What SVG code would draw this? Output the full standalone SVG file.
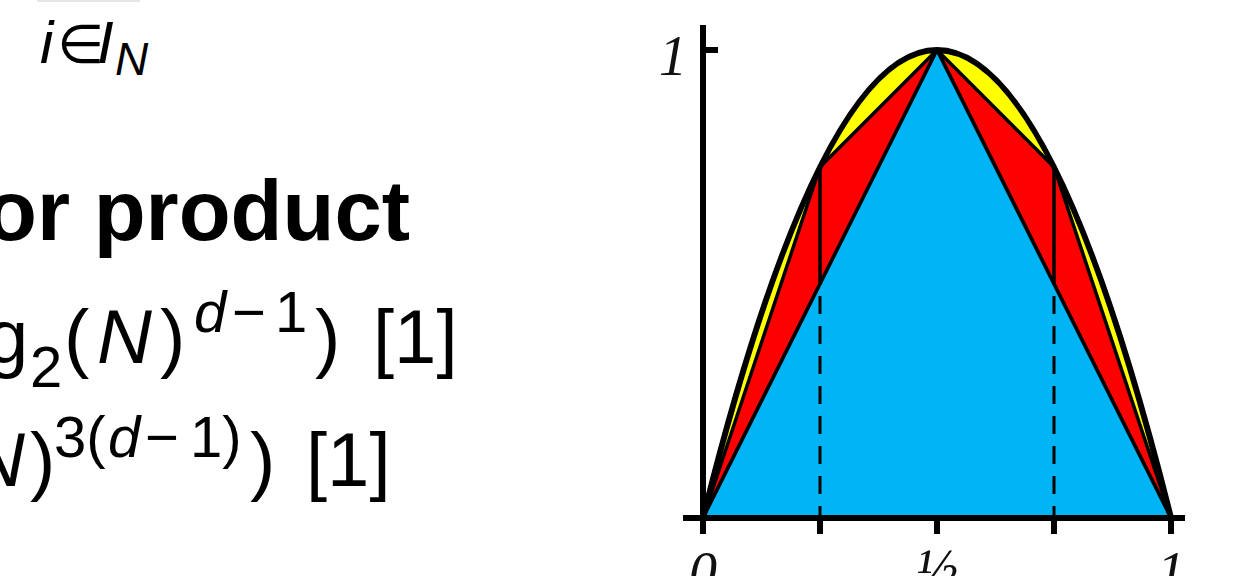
<svg xmlns="http://www.w3.org/2000/svg" width="1243" height="576" viewBox="0 0 1243 576">
<style>
.sans{font-family:"Liberation Sans","DejaVu Sans",Arial,sans-serif;fill:#000}
.it{font-style:italic}
.sym{font-family:"DejaVu Sans","Liberation Sans",sans-serif}
.lbl{font-family:"Liberation Serif","Times New Roman",serif;font-style:italic;font-size:56px;fill:#111;text-anchor:middle}
.edge{stroke:#000;stroke-width:3.5;stroke-linejoin:round}
.axis{stroke:#000;stroke-width:6;fill:none}
.dash{stroke:#000;stroke-width:3;stroke-dasharray:18 12;fill:none}
</style>
<rect x="0" y="0" width="1243" height="576" fill="#fff"/>
<g id="text">
<rect x="37" y="0" width="103" height="2" fill="#e6e6e6"/>
<text class="sans" y="63" font-size="60"><tspan class="it" x="40">i</tspan><tspan class="sym" x="57" font-size="54">∈</tspan><tspan class="it" x="97">I</tspan></text>
<text class="sans it" x="115" y="75" font-size="46">N</text>
<text class="sans" x="410" y="240" font-size="85" font-weight="bold" text-anchor="end">or product</text>
<text class="sans" y="363" font-size="76"><tspan x="-14">g</tspan><tspan x="30" y="387" font-size="58">2</tspan><tspan x="64" y="363">(</tspan><tspan class="it" x="97">N</tspan><tspan x="160">)</tspan><tspan x="194" y="332" font-size="58" class="it">d</tspan><tspan x="232" y="332" font-size="58">−</tspan><tspan x="275" y="332" font-size="58">1</tspan><tspan x="315" y="363">)</tspan><tspan x="373">[1]</tspan></text>
<text class="sans" y="486" font-size="76"><tspan class="it" x="-30">N</tspan><tspan x="30">)</tspan><tspan x="54" y="457" font-size="58">3(</tspan><tspan class="it" x="108" y="457" font-size="58">d</tspan><tspan x="145" y="457" font-size="58">−</tspan><tspan x="190" y="457" font-size="58">1)</tspan><tspan x="250" y="486">)</tspan><tspan x="306">[1]</tspan></text>
</g>
<g id="plot">
<path d="M703,518 Q937,-418 1171,518 Z" fill="#ffff00"/>
<polygon class="edge" points="703,518 820,167 937,50" fill="#ff0000"/>
<polygon class="edge" points="937,50 1054,167 1171,518" fill="#ff0000"/>
<polygon class="edge" points="703,518 937,50 1171,518" fill="#00b4f5"/>
<line class="edge" x1="820" y1="167" x2="820" y2="285"/>
<line class="edge" x1="1054" y1="167" x2="1054" y2="285"/>
<line class="dash" x1="820" y1="296" x2="820" y2="518"/>
<line class="dash" x1="1054" y1="296" x2="1054" y2="518"/>
<path d="M703,518 Q937,-418 1171,518" fill="none" stroke="#000" stroke-width="6"/>
</g>
<g id="axes">
<line class="axis" x1="703" y1="25" x2="703" y2="521"/>
<line class="axis" x1="683" y1="518" x2="1185" y2="518"/>
<line class="axis" x1="703" y1="50" x2="718" y2="50"/>
<line class="axis" x1="703" y1="518" x2="703" y2="534"/>
<line class="axis" x1="820" y1="518" x2="820" y2="534"/>
<line class="axis" x1="937" y1="518" x2="937" y2="534"/>
<line class="axis" x1="1054" y1="518" x2="1054" y2="534"/>
<line class="axis" x1="1171" y1="518" x2="1171" y2="534"/>
<text class="lbl" x="673" y="75">1</text>
<text class="lbl" x="703" y="591">0</text>
<text class="lbl" x="937" y="588" font-size="68">½</text>
<text class="lbl" x="1171" y="591">1</text>
</g>
</svg>
